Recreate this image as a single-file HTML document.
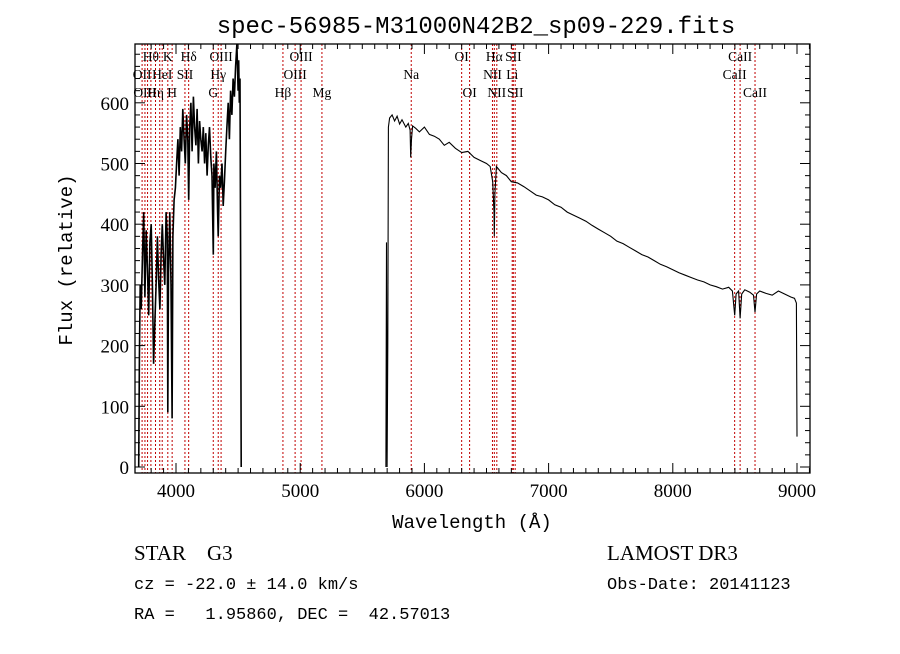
<!DOCTYPE html>
<html><head><meta charset="utf-8"><style>
body{margin:0;background:#fff;}
svg text{font-family:"Liberation Serif",serif;white-space:pre;}
</style></head><body>
<svg id="chart" width="900" height="649" xmlns="http://www.w3.org/2000/svg" xml:space="preserve">
<rect width="900" height="649" fill="#fff"/>
<text x="476" y="33" font-size="24" text-anchor="middle" style="font-family:'Liberation Mono',monospace">spec-56985-M31000N42B2_sp09-229.fits</text>
<g id="lines"></g>
<g id="spec"></g>
<g id="axes"></g>
<text x="472" y="528" font-size="19" text-anchor="middle" style="font-family:'Liberation Mono',monospace">Wavelength (Å)</text>
<text transform="translate(72,260) rotate(-90)" font-size="19" text-anchor="middle" style="font-family:'Liberation Mono',monospace">Flux (relative)</text>
<text x="134" y="560" font-size="21">STAR    G3</text>
<text x="134" y="589" font-size="17" style="font-family:'Liberation Mono',monospace">cz = -22.0 ± 14.0 km/s</text>
<text x="134" y="619" font-size="17" style="font-family:'Liberation Mono',monospace">RA =   1.95860, DEC =  42.57013</text>
<text x="607" y="560" font-size="21">LAMOST DR3</text>
<text x="607" y="589" font-size="17" style="font-family:'Liberation Mono',monospace">Obs-Date: 20141123</text>
</svg>
<script>
const blueW=[3700,3705,3712,3720,3730,3740,3750,3760,3770,3780,3790,3800,3810,3820,3830,3840,3850,3860,3870,3880,3890,3900,3910,3920,3930,3934,3940,3950,3960,3969,3975,3985,3995,4005,4015,4025,4035,4045,4055,4065,4075,4085,4095,4102,4110,4120,4130,4140,4150,4160,4170,4180,4190,4200,4210,4220,4230,4240,4250,4260,4270,4280,4290,4300,4305,4315,4325,4335,4340,4350,4360,4370,4380,4390,4400,4410,4420,4430,4440,4450,4460,4470,4480,4490,4500,4505,4510,4515,4520,4525];
const blueF=[0,180,300,260,350,420,280,390,330,250,370,400,300,170,240,300,380,310,260,350,400,340,300,420,380,90,320,420,300,80,380,440,460,500,540,480,560,520,590,540,500,580,540,440,560,600,520,610,560,530,590,500,570,540,520,560,500,550,480,530,560,510,480,350,500,460,520,420,380,480,460,500,430,470,520,560,600,540,620,580,640,610,660,700,620,670,600,640,350,0];
const redW=[5690,5695,5700,5705,5710,5720,5740,5760,5780,5800,5820,5850,5870,5885,5890,5896,5905,5930,5960,6000,6040,6080,6120,6160,6200,6250,6300,6350,6400,6450,6500,6530,6550,6560,6563,6568,6580,6620,6660,6700,6750,6800,6850,6900,6950,7000,7050,7100,7150,7200,7250,7300,7350,7400,7450,7500,7550,7600,7650,7700,7750,7800,7850,7900,7950,8000,8050,8100,8150,8200,8250,8300,8350,8400,8450,8480,8498,8510,8530,8542,8555,8580,8620,8650,8662,8675,8700,8750,8800,8850,8900,8950,8980,8995,9000];
const redF=[0,370,0,200,560,575,580,570,578,565,572,560,566,555,510,540,562,558,552,560,548,545,540,530,535,525,518,520,510,505,500,495,470,420,380,450,495,485,480,470,468,462,455,448,445,440,432,428,420,415,410,405,398,392,386,380,372,368,362,356,350,346,340,334,330,325,320,316,312,308,305,300,297,293,296,290,250,285,290,245,285,292,288,283,255,285,290,286,283,290,285,280,278,270,50];
const tickX=[4000,5000,6000,7000,8000,9000];
const tickY=[0,100,200,300,400,500,600];
const lineW=[3727,3750,3771,3798,3835,3869,3889,3934,3969,4072,4102,4300,4340,4363,4861,4959,5007,5175,5894,6300,6364,6548,6563,6583,6707,6716,6731,8498,8542,8662];
const labelText=["Hθ","K","Hδ","OIII","OIII","OI","Hα","SII","CaII","OII","HeI","SII","Hγ","OIII","Na","NII","Li","CaII","OIII","Hη","H","G","Hβ","Mg","OI","NII","SII","CaII"];
const labelW=[3798,3934,4102,4363,5007,6300,6563,6716,8542,3727,3889,4072,4340,4959,5894,6548,6707,8498,3750,3835,3969,4300,4861,5175,6364,6583,6731,8662];
const labelRow=[0,0,0,0,0,0,0,0,0,1,1,1,1,1,1,1,1,1,2,2,2,2,2,2,2,2,2,2];
const X0=135,X1=810,Y0=473,Y1=44;
function xs(w){return 176+(w-4000)*0.1242;}
function ys(f){return 467-f*0.607;}
const NS="http://www.w3.org/2000/svg";
function mk(tag,attrs,parent){const e=document.createElementNS(NS,tag);for(const k in attrs)e.setAttribute(k,attrs[k]);parent.appendChild(e);return e;}
const gl=document.getElementById('lines');
lineW.forEach(w=>{const l=mk('line',{x1:xs(w),x2:xs(w),y1:Y1,y2:Y0,stroke:'#c00000','stroke-width':1,'stroke-dasharray':'2,2'},gl);

});
labelText.forEach((t,i)=>{const e=mk('text',{x:xs(labelW[i]),y:61+labelRow[i]*18,'font-size':13.5,'text-anchor':'middle'},gl);e.textContent=t;

});
const gs=document.getElementById('spec');
function path(W,F){let d='';W.forEach((w,i)=>{let y=Math.max(Y1,Math.min(Y0,ys(F[i])));d+=(i?'L':'M')+xs(w).toFixed(1)+','+y.toFixed(1);});return d;}
const p1=mk('path',{d:path(blueW,blueF),fill:'none',stroke:'#000','stroke-width':1.6},gs);


const p2=mk('path',{d:path(redW,redF),fill:'none',stroke:'#000','stroke-width':1.1},gs);


const ga=document.getElementById('axes');
const fr=mk('rect',{x:X0,y:Y1,width:X1-X0,height:Y0-Y1,fill:'none',stroke:'#000','stroke-width':1.3},ga);


for(let w=3800;w<=9100;w+=100){const x=xs(w);const maj=w%1000===0;
mk('line',{x1:x,x2:x,y1:Y0,y2:Y0-(maj?10:5),stroke:'#000'},ga);
mk('line',{x1:x,x2:x,y1:Y1,y2:Y1+(maj?10:5),stroke:'#000'},ga);}
tickX.forEach(v=>{const t=mk('text',{x:xs(v),y:Y0+24,'font-size':19,'text-anchor':'middle','font-family':'Liberation Sans, sans-serif'},ga);t.textContent=v;

});
for(let f=0;f<=690;f+=20){const y=ys(f);const maj=f%100===0;
mk('line',{x1:X0,x2:X0+(maj?10:5),y1:y,y2:y,stroke:'#000'},ga);
mk('line',{x1:X1,x2:X1-(maj?10:5),y1:y,y2:y,stroke:'#000'},ga);}
tickY.forEach(v=>{const t=mk('text',{x:X0-6,y:ys(v)+7,'font-size':19,'text-anchor':'end','font-family':'Liberation Sans, sans-serif'},ga);t.textContent=v;

});
</script>
</body></html>
